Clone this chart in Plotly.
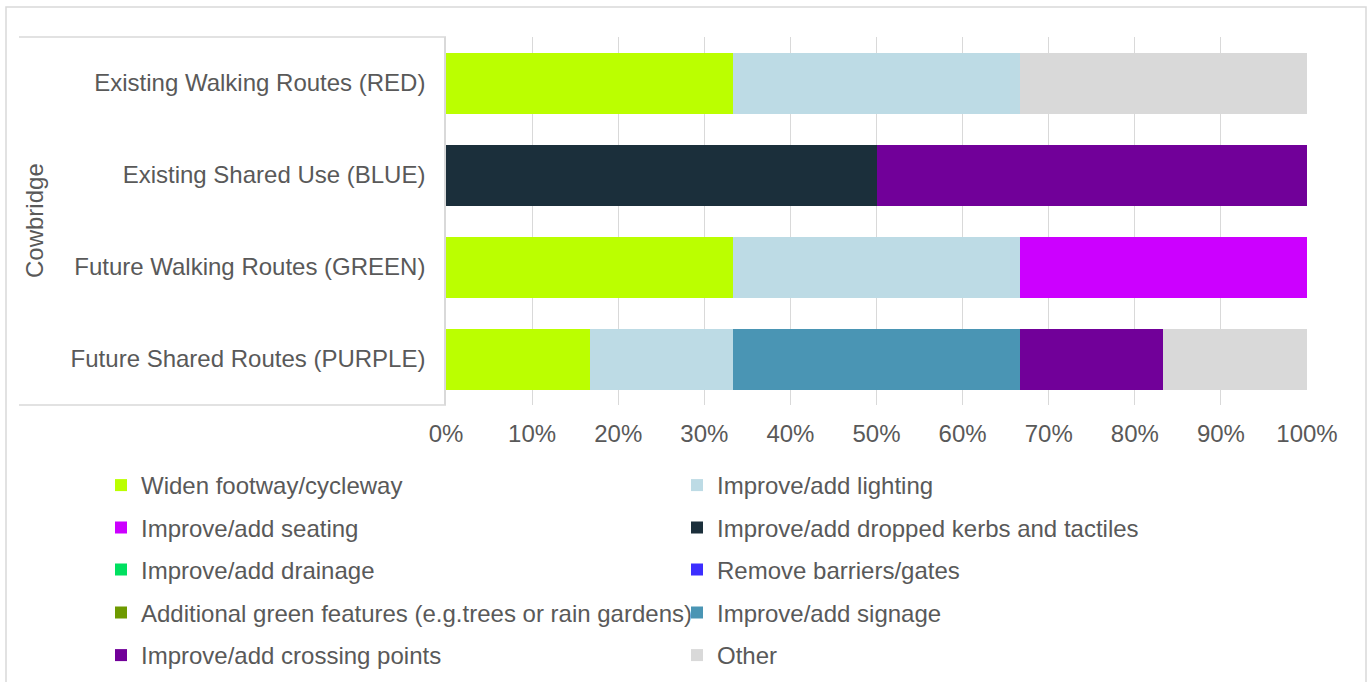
import plotly.graph_objects as go

# Route types (top to bottom) and improvement categories
routes = [
    "Existing Walking Routes (RED)",
    "Existing Shared Use (BLUE)",
    "Future Walking Routes (GREEN)",
    "Future Shared Routes (PURPLE)",
]
group_label = "Cowbridge"

improvements = [
    "Widen footway/cycleway",
    "Improve/add lighting",
    "Improve/add seating",
    "Improve/add dropped kerbs and tactiles",
    "Improve/add drainage",
    "Remove barriers/gates",
    "Additional green features (e.g.trees or rain gardens)",
    "Improve/add signage",
    "Improve/add crossing points",
    "Other",
]

# Share of responses (%) per route, one list per improvement, in route order
widen = [33.3, 0, 33.3, 16.7]
lighting = [33.3, 0, 33.3, 16.7]
seating = [0, 0, 33.3, 0]
dropped_kerbs = [0, 50.0, 0, 0]
drainage = [0, 0, 0, 0]
barriers = [0, 0, 0, 0]
green_features = [0, 0, 0, 0]
signage = [0, 0, 0, 33.3]
crossing = [0, 50.0, 0, 16.7]
other = [33.3, 0, 0, 16.7]

series = [widen, lighting, seating, dropped_kerbs, drainage, barriers,
          green_features, signage, crossing, other]

colors = ["#BBFF00", "#BDDBE5", "#CC00FF", "#1B2F3B", "#00E060",
          "#3C2EFF", "#6E9A00", "#4A95B4", "#710099", "#D9D9D9"]

x_ticks = [0, 10, 20, 30, 40, 50, 60, 70, 80, 90, 100]

FONT = "Liberation Sans, Arial, sans-serif"
TEXT = "#595959"
GRID = "#D9D9D9"
FS = 24

W, H = 1370, 682
L, R, T, B = 446, 63, 37, 277
PW, PH = W - L - R, H - T - B


def px_x(px):
    return (px - L) / PW


def px_y(py):
    return (H - B - py) / PH


fig = go.Figure()
for i, (name, vals, col) in enumerate(zip(improvements, series, colors)):
    fig.add_trace(go.Bar(
        y=routes, x=vals, name=name, orientation="h",
        marker=dict(color=col, line=dict(width=0)),
        legend="legend" if i // 2 == 0 else f"legend{i // 2 + 1}",
    ))

# one legend per row, two entries each
row_y = [485.5, 528, 570, 613, 655.5]
legend_common = dict(
    orientation="h", xanchor="left", yanchor="middle",
    traceorder="normal",
    font=dict(family=FONT, size=FS, color=TEXT),
    entrywidth=531, entrywidthmode="pixels",
    bgcolor="rgba(0,0,0,0)", itemclick=False, itemdoubleclick=False,
)
legends = {}
for r, yy in enumerate(row_y):
    key = "legend" if r == 0 else f"legend{r + 1}"
    legends[key] = dict(legend_common, x=px_x(101), y=px_y(yy))

fig.update_layout(
    barmode="stack",
    barnorm="percent",
    bargap=0.337,
    width=W, height=H,
    margin=dict(l=L, r=R, t=T, b=B, autoexpand=False),
    paper_bgcolor="white",
    plot_bgcolor="white",
    font=dict(family=FONT, size=FS, color=TEXT),
    showlegend=True,
    xaxis=dict(
        range=[0, 100], tickvals=x_ticks,
        ticktext=[f"{v}%" for v in x_ticks],
        showgrid=True, gridcolor=GRID, gridwidth=1,
        zeroline=False, showline=False, ticks="",
        ticklabelstandoff=12,
        tickfont=dict(family=FONT, size=FS, color=TEXT),
        fixedrange=True, automargin=False,
    ),
    yaxis=dict(
        categoryorder="array", categoryarray=routes,
        autorange="reversed",
        showgrid=False, zeroline=False,
        showline=True, linecolor=GRID, linewidth=1.5,
        ticks="", ticklabelstandoff=14,
        tickfont=dict(family=FONT, size=FS, color=TEXT),
        fixedrange=True, automargin=False,
    ),
    **legends,
)

# bracket around the category labels and outer chart border
for yy in (0, 1):
    fig.add_shape(type="line", xref="paper", yref="paper",
                  x0=px_x(19), x1=0, y0=yy, y1=yy,
                  line=dict(color=GRID, width=1.5))
fig.add_shape(type="rect", xref="paper", yref="paper",
              x0=px_x(6), x1=px_x(1366), y0=px_y(695), y1=px_y(7),
              line=dict(color=GRID, width=1.5), fillcolor="rgba(0,0,0,0)",
              layer="below")

fig.add_annotation(
    text=group_label, xref="paper", yref="paper",
    x=px_x(34), y=px_y(221), xanchor="center", yanchor="middle",
    textangle=-90, showarrow=False,
    font=dict(family=FONT, size=FS, color=TEXT),
)

fig.write_html("out.html", config={"displayModeBar": False})
